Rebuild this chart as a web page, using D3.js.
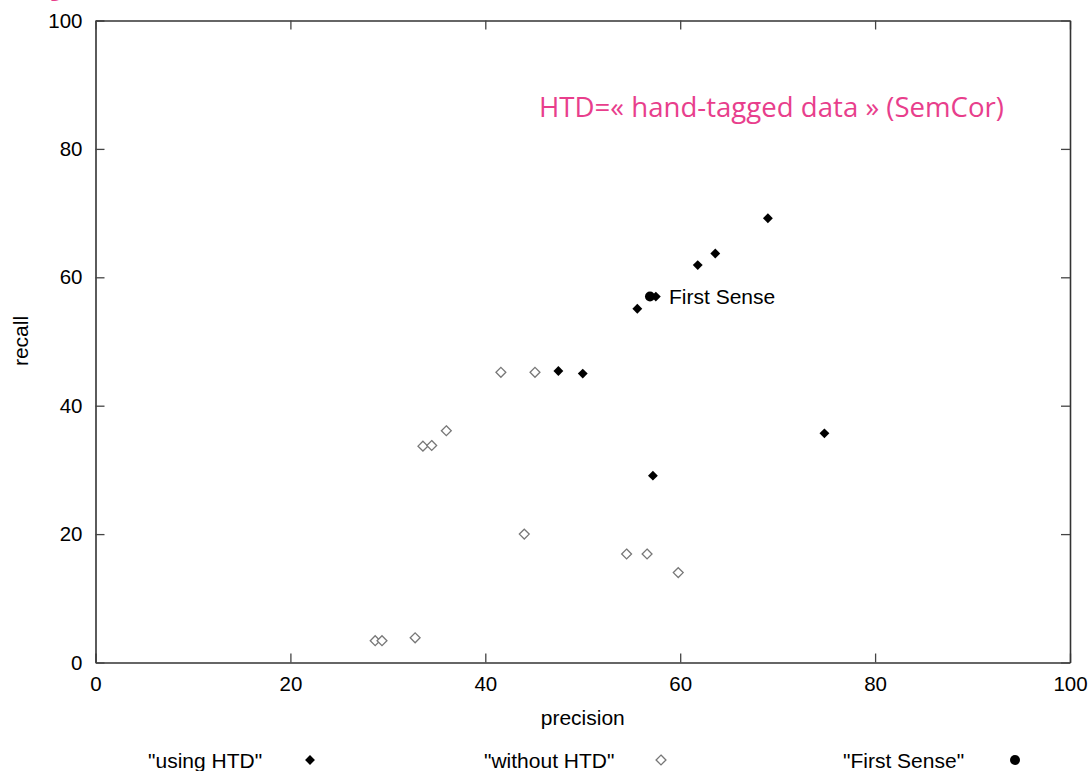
<!DOCTYPE html>
<html>
<head>
<meta charset="utf-8">
<script src="https://cdn.jsdelivr.net/npm/d3@7"></script>
<style>
  body { margin: 0; background: white; }
  text { font-family: "Liberation Sans", Arial, sans-serif; }
</style>
</head>
<body>
<div id="chart"></div>
<script>
// values: [precision, recall]
const usingHTD = [[69.0, 69.2], [63.6, 63.7], [61.8, 61.9], [57.5, 57.0], [55.6, 55.1],
  [47.5, 45.4], [50.0, 45.0], [74.8, 35.7], [57.2, 29.1]];
const withoutHTD = [[41.6, 45.2], [45.1, 45.2], [36.0, 36.1], [33.6, 33.7], [34.5, 33.8],
  [44.0, 20.0], [54.5, 16.9], [56.6, 16.9], [59.8, 14.0], [28.7, 3.4], [29.4, 3.4], [32.8, 3.85]];
const firstSense = [[56.9, 57.0]];
const ticks = [0, 20, 40, 60, 80, 100];
const legendNames = ['"using HTD"', '"without HTD"', '"First Sense"'];
const noteText = "HTD=« hand-tagged data » (SemCor)";

// set the dimensions and margins of the graph
const margin = {top: 20.5, right: 21, bottom: 108.5, left: 95.5},
    width = 1091 - margin.left - margin.right,
    height = 771 - margin.top - margin.bottom;

const svg = d3.select("#chart")
  .append("svg")
  .attr("width", 1091)
  .attr("height", 771);

// pink fragment of the slide title cut off at the top
svg.append("text")
  .attr("x", 50).attr("y", -8)
  .style("font-family", "Open Sans")
  .style("font-size", "40px")
  .style("font-weight", "bold")
  .attr("fill", "#e83e8c")
  .text("y");

const g = svg.append("g")
  .attr("transform", `translate(${margin.left}, ${margin.top})`);

const x = d3.scaleLinear().domain([0, 100]).range([0, width]);
const y = d3.scaleLinear().domain([0, 100]).range([height, 0]);

// axes with inward ticks, mirrored on top / right
g.append("g")
  .attr("transform", `translate(0, ${height})`)
  .call(d3.axisBottom(x).tickValues(ticks).tickSize(-9).tickSizeOuter(0).tickPadding(14));
g.append("g")
  .call(d3.axisLeft(y).tickValues(ticks).tickSize(-9).tickSizeOuter(0).tickPadding(13));
g.append("g")
  .call(d3.axisTop(x).tickValues(ticks).tickSize(-9).tickSizeOuter(0).tickFormat(""));
g.append("g")
  .attr("transform", `translate(${width}, 0)`)
  .call(d3.axisRight(y).tickValues(ticks).tickSize(-9).tickSizeOuter(0).tickFormat(""));

g.selectAll(".domain").attr("stroke", "#333").attr("stroke-width", 1.6);
g.selectAll(".tick line").attr("stroke", "#444").attr("stroke-width", 1.3);
g.selectAll(".tick text")
  .attr("fill", "#000")
  .style("font-family", "Liberation Sans")
  .style("font-size", "20.5px");

// axis labels
g.append("text")
  .attr("x", width / 2).attr("y", 704.5 - margin.top + 20)
  .attr("text-anchor", "middle")
  .style("font-size", "21px")
  .text("precision");
svg.append("text")
  .attr("transform", "translate(28, 341) rotate(-90)")
  .attr("text-anchor", "middle")
  .style("font-size", "21px")
  .text("recall");

const diamond = d3.symbol().type(d3.symbolDiamond2).size(62);

// points
g.append("g").selectAll("path")
  .data(withoutHTD)
  .join("path")
  .attr("d", diamond)
  .attr("transform", d => `translate(${x(d[0])}, ${y(d[1])})`)
  .attr("fill", "white")
  .attr("stroke", "#777")
  .attr("stroke-width", 1.3);

g.append("g").selectAll("circle")
  .data(firstSense)
  .join("circle")
  .attr("cx", d => x(d[0]))
  .attr("cy", d => y(d[1]))
  .attr("r", 5)
  .attr("fill", "black");

g.append("g").selectAll("path")
  .data(usingHTD)
  .join("path")
  .attr("d", diamond)
  .attr("transform", d => `translate(${x(d[0])}, ${y(d[1])})`)
  .attr("fill", "black");

// label next to the first sense point
g.append("text")
  .attr("x", x(firstSense[0][0]) + 19)
  .attr("y", y(firstSense[0][1]) + 7.5)
  .style("font-size", "21px")
  .text("First Sense");

// pink note
svg.append("text")
  .attr("x", 539).attr("y", 117)
  .attr("textLength", 465)
  .attr("lengthAdjust", "spacingAndGlyphs")
  .style("font-family", "Open Sans")
  .style("font-size", "28px")
  .attr("fill", "#e83e8c")
  .text(noteText);

// legend
const legendTextX = [148, 484, 843];
const legendMarkX = [310, 661, 1015];
const legendY = 760;
const lg = svg.append("g");
legendNames.forEach((name, i) => {
  lg.append("text")
    .attr("x", legendTextX[i]).attr("y", legendY + 7.5)
    .style("font-size", "21px")
    .text(name);
});
lg.append("path").attr("d", diamond)
  .attr("transform", `translate(${legendMarkX[0]}, ${legendY})`)
  .attr("fill", "black");
lg.append("path").attr("d", diamond)
  .attr("transform", `translate(${legendMarkX[1]}, ${legendY})`)
  .attr("fill", "white").attr("stroke", "#777").attr("stroke-width", 1.3);
lg.append("circle")
  .attr("cx", legendMarkX[2]).attr("cy", legendY).attr("r", 5)
  .attr("fill", "black");
</script>
</body>
</html>
